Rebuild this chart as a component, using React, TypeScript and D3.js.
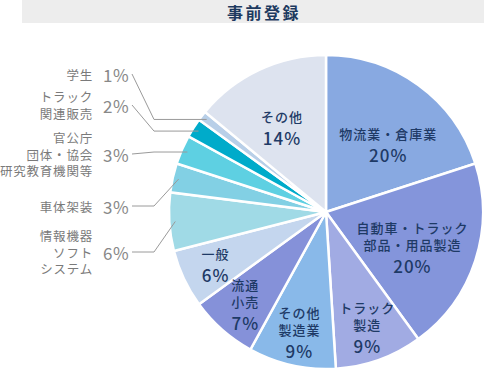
import React from "react";
import * as d3 from "d3";

// 事前登録の内訳
const categories = [
  "物流業・倉庫業",
  "自動車・トラック部品・用品製造",
  "トラック製造",
  "その他製造業",
  "流通小売",
  "一般",
  "情報機器ソフトシステム",
  "車体架装",
  "官公庁団体・協会研究教育機関等",
  "トラック関連販売",
  "学生",
  "その他",
];
const labelLines = [
  ["物流業・倉庫業"],
  ["自動車・トラック", "部品・用品製造"],
  ["トラック", "製造"],
  ["その他", "製造業"],
  ["流通", "小売"],
  ["一般"],
  ["情報機器", "ソフト", "システム"],
  ["車体架装"],
  ["官公庁", "団体・協会", "研究教育機関等"],
  ["トラック", "関連販売"],
  ["学生"],
  ["その他"],
];
const values = [20, 20, 9, 9, 7, 6, 6, 3, 3, 2, 1, 14];
const colors = [
  "#88a9e1", "#8495db", "#a1abe3", "#89b9e9", "#8591d9", "#c4d6ee",
  "#a0dae6", "#82d0e4", "#5ed0e2", "#00abca", "#b8cfe8", "#dde3ef",
];
// 外側に出すラベル（小さいスライス）
const outside = ["情報機器ソフトシステム", "車体架装", "官公庁団体・協会研究教育機関等", "トラック関連販売", "学生"];

const W = 486;
const H = 374;
const cx = 326;
const cy = 212;
const R = 157;
const FONT = "'Noto Sans CJK JP', 'Noto Sans', sans-serif";

// ラベル位置の微調整
const nudge: Record<string, [number, number]> = {
  "物流業・倉庫業": [7, 8],
  "自動車・トラック部品・用品製造": [-3, 5],
  "その他": [-4, 0],
};

const App = () => {
  const data = categories.map((c, i) => ({ name: c, lines: labelLines[i], value: values[i], color: colors[i] }));
  const pie = d3.pie<any>().sort(null).value((d) => d.value).startAngle(0).endAngle(Math.PI * 2);
  const arcs = pie(data);
  const arc = d3.arc<any>().innerRadius(0).outerRadius(R);

  const outY: Record<string, number> = {
    "学生": 74,
    "トラック関連販売": 105,
    "官公庁団体・協会研究教育機関等": 154,
    "車体架装": 206,
    "情報機器ソフトシステム": 252,
  };

  return (
    <div style={{ position: "absolute", left: 0, top: 0 }}>
      <svg width={W} height={H} style={{ display: "block", fontFamily: FONT }}>
        <rect x={22} y={0} width={462} height={23} fill="#ededed" />
        <text x={264} y={12} textAnchor="middle" dominantBaseline="central" fontSize={16}
          fontWeight="bold" fill="#1d3a5f" letterSpacing={2.5}>
          事前登録
        </text>

        <g transform={`translate(${cx},${cy})`}>
          {arcs.map((a, i) => (
            <path key={i} d={arc(a) as string} fill={a.data.color} stroke="#fff" strokeWidth={2.5} />
          ))}

          {arcs.map((a, i) => {
            if (outside.includes(a.data.name)) return null;
            const r = a.data.value >= 14 ? 94 : 122;
            let [x, y] = d3.arc<any>().innerRadius(r).outerRadius(r).centroid(a);
            const nd = nudge[a.data.name];
            if (nd) { x += nd[0]; y += nd[1]; }
            const n = a.data.lines.length;
            const total = (n - 1) * 17 + 21;
            const y0 = y - total / 2;
            return (
              <g key={"in" + i} fill="#1e3a66" textAnchor="middle" fontWeight={500}>
                {a.data.lines.map((t: string, j: number) => (
                  <text key={j} x={x} y={y0 + j * 17} dominantBaseline="central" fontSize={13} letterSpacing={1}>
                    {t}
                  </text>
                ))}
                <text x={x} y={y0 + (n - 1) * 17 + 21} dominantBaseline="central" fontSize={17} letterSpacing={1}>
                  {a.data.value}%
                </text>
              </g>
            );
          })}
        </g>

        {arcs.map((a, i) => {
          if (!outside.includes(a.data.name)) return null;
          const ly = outY[a.data.name];
          const [ex, ey] = d3.arc<any>().innerRadius(151).outerRadius(151).centroid(a);
          const px = cx + ex;
          const py = cy + ey;
          const elbowNear = py < ly - 4;
          const pts: [number, number][] = elbowNear
            ? [[132, ly], [154, ly], [px, py]]
            : [[132, ly], [154, py], [px, py]];
          const n = a.data.lines.length;
          return (
            <g key={"out" + i}>
              <path d={d3.line()(pts) as string} fill="none" stroke="#9a9a9a" strokeWidth={1} />
              {a.data.lines.map((t: string, j: number) => (
                <text key={j} x={93} y={ly + (j - (n - 1) / 2) * 16.5} textAnchor="end" dominantBaseline="central"
                  fontSize={12.5} letterSpacing={0.8} fill="#7a7a7a">
                  {t}
                </text>
              ))}
              <text x={103} y={ly} dominantBaseline="central" fontSize={17} letterSpacing={0.5} fill="#888">
                {a.data.value}%
              </text>
            </g>
          );
        })}
      </svg>
    </div>
  );
};

export default App;
